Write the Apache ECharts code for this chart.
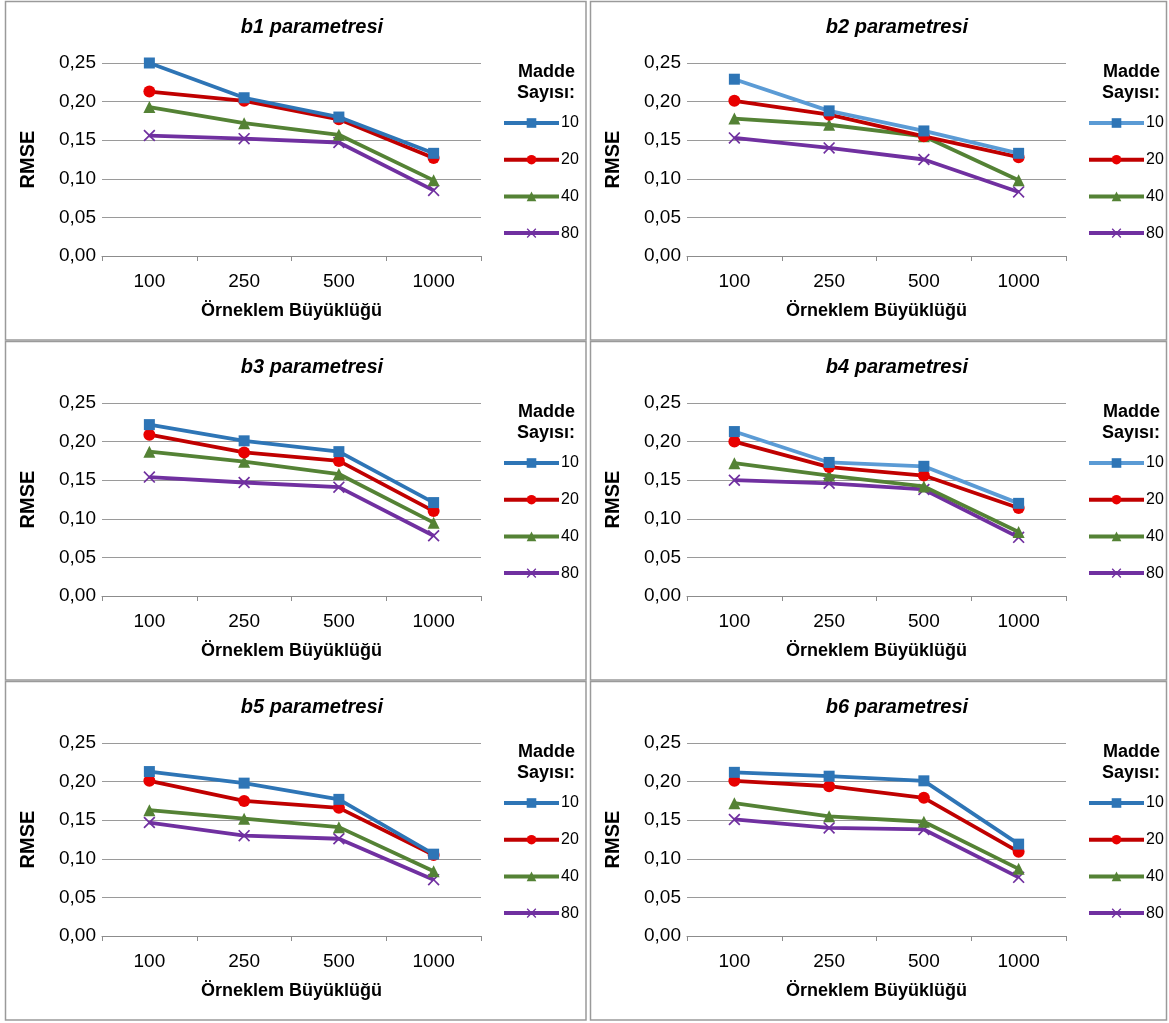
<!DOCTYPE html>
<html>
<head>
<meta charset="utf-8">
<script src="https://cdn.jsdelivr.net/npm/echarts@6/dist/echarts.min.js"></script>
<style>
html,body{margin:0;padding:0;background:#fff;}
#c{width:1169px;height:1023px;}
</style>
</head>
<body>
<div id="c"></div>
<script>
// ---- data ----
const categories = ['100', '250', '500', '1000'];
const seriesNames = ['10', '20', '40', '80'];
const panelTitles = ['b1 parametresi', 'b2 parametresi', 'b3 parametresi', 'b4 parametresi', 'b5 parametresi', 'b6 parametresi'];
const xAxisTitle = 'Örneklem Büyüklüğü';
const yAxisTitle = 'RMSE';
const legendTitle = ['Madde', 'Sayısı:'];
const yMin = 0, yMax = 0.25, yStep = 0.05;

const b1_10 = [0.250, 0.205, 0.180, 0.133];
const b1_20 = [0.213, 0.201, 0.177, 0.127];
const b1_40 = [0.193, 0.172, 0.157, 0.098];
const b1_80 = [0.156, 0.152, 0.147, 0.085];

const b2_10 = [0.229, 0.188, 0.162, 0.133];
const b2_20 = [0.201, 0.183, 0.155, 0.128];
const b2_40 = [0.178, 0.170, 0.155, 0.098];
const b2_80 = [0.153, 0.140, 0.125, 0.083];

const b3_10 = [0.222, 0.201, 0.187, 0.121];
const b3_20 = [0.209, 0.186, 0.175, 0.110];
const b3_40 = [0.187, 0.174, 0.158, 0.095];
const b3_80 = [0.154, 0.147, 0.141, 0.078];

const b4_10 = [0.213, 0.173, 0.168, 0.120];
const b4_20 = [0.200, 0.167, 0.156, 0.114];
const b4_40 = [0.172, 0.156, 0.142, 0.083];
const b4_80 = [0.150, 0.146, 0.138, 0.076];

const b5_10 = [0.213, 0.198, 0.177, 0.106];
const b5_20 = [0.201, 0.175, 0.166, 0.105];
const b5_40 = [0.163, 0.152, 0.141, 0.084];
const b5_80 = [0.147, 0.130, 0.126, 0.073];

const b6_10 = [0.212, 0.207, 0.201, 0.119];
const b6_20 = [0.201, 0.194, 0.179, 0.109];
const b6_40 = [0.172, 0.155, 0.148, 0.087];
const b6_80 = [0.151, 0.140, 0.138, 0.076];

const panelData = [
  [b1_10, b1_20, b1_40, b1_80],
  [b2_10, b2_20, b2_40, b2_80],
  [b3_10, b3_20, b3_40, b3_80],
  [b4_10, b4_20, b4_40, b4_80],
  [b5_10, b5_20, b5_40, b5_80],
  [b6_10, b6_20, b6_40, b6_80]
];

// ---- styles ----
const FONT = '"Liberation Sans", Arial, sans-serif';
const lightBluePanels = [1, 3];
const xSymbol = 'path://M0,1L1,0L5,4L9,0L10,1L6,5L10,9L9,10L5,6L1,10L0,9L4,5Z';
const seriesStyle = [
  { line: '#2E75B6', fill: '#2E75B6', symbol: 'rect', size: 11 },
  { line: '#C00000', fill: '#E80000', symbol: 'circle', size: 12 },
  { line: '#548235', fill: '#548235', symbol: 'triangle', size: 12 },
  { line: '#7030A0', fill: '#7030A0', symbol: xSymbol, size: 12 }
];

const chart = echarts.init(document.getElementById('c'), null, { renderer: 'canvas' });

const grids = [], xAxes = [], yAxes = [], series = [], legends = [], graphics = [];
const colOffset = 585, rowOffset = 340;

for (let p = 0; p < 6; p++) {
  const col = p % 2, row = Math.floor(p / 2);
  const ox = col * colOffset, oy = row * rowOffset;
  const gLeft = 102 + ox, gTop = 63 + oy, gW = 379, gH = 193;

  // panel border
  graphics.push({
    type: 'rect', silent: true, z: -1,
    shape: { x: col === 0 ? 5.5 : 590.5, y: 1.5 + oy, width: col === 0 ? 580.5 : 576, height: 338.5 },
    style: { fill: 'none', stroke: '#9a9a9a', lineWidth: 1.5 }
  });
  // title
  graphics.push({
    type: 'text', silent: true,
    style: { text: panelTitles[p], x: 312 + ox, y: 27 + oy, align: 'center', verticalAlign: 'middle',
      font: 'italic bold 20px ' + FONT, fill: '#000' }
  });
  // legend title
  graphics.push({
    type: 'text', silent: true,
    style: { text: legendTitle[0], x: 575 + ox, y: 72 + oy, align: 'right', verticalAlign: 'middle',
      font: 'bold 18px ' + FONT, fill: '#000' }
  });
  graphics.push({
    type: 'text', silent: true,
    style: { text: legendTitle[1], x: 575 + ox, y: 93 + oy, align: 'right', verticalAlign: 'middle',
      font: 'bold 18px ' + FONT, fill: '#000' }
  });

  grids.push({ left: gLeft, top: gTop, width: gW, height: gH, containLabel: false });

  xAxes.push({
    type: 'category', gridIndex: p, data: categories, boundaryGap: true,
    name: xAxisTitle, nameLocation: 'middle', nameGap: 46,
    nameTextStyle: { fontFamily: FONT, fontSize: 18, fontWeight: 'bold', color: '#000' },
    axisLine: { lineStyle: { color: '#8c8c8c', width: 1 } },
    axisTick: { show: true, length: 5, alignWithLabel: false, lineStyle: { color: '#8c8c8c' } },
    axisLabel: { fontFamily: FONT, fontSize: 19, color: '#000', margin: 16 },
    splitLine: { show: false }
  });

  yAxes.push({
    type: 'value', gridIndex: p, min: yMin, max: yMax, interval: yStep,
    name: yAxisTitle, nameLocation: 'middle', nameGap: 64, nameRotate: 90,
    nameTextStyle: { fontFamily: FONT, fontSize: 20, fontWeight: 'bold', color: '#000' },
    axisLine: { show: false }, axisTick: { show: false },
    axisLabel: { fontFamily: FONT, fontSize: 19, color: '#000', margin: 6,
      formatter: v => v.toFixed(2).replace('.', ',') },
    splitLine: { show: true, lineStyle: { color: '#9a9a9a', width: 1 } }
  });

  const names = [];
  for (let s = 0; s < 4; s++) {
    const st = seriesStyle[s];
    let lineColor = st.line;
    if (s === 0 && lightBluePanels.includes(p)) lineColor = '#5B9BD5';
    const nm = seriesNames[s] + '|' + p;
    names.push(nm);
    series.push({
      type: 'line', name: nm, xAxisIndex: p, yAxisIndex: p,
      data: panelData[p][s],
      symbol: st.symbol, symbolSize: st.size, showSymbol: true, clip: false,
      lineStyle: { color: lineColor, width: 3.8 },
      itemStyle: { color: st.fill, borderColor: st.fill, borderWidth: 0 },
      emphasis: { disabled: true },
      z: 10 - s
    });
  }

  legends.push({
    orient: 'vertical', left: 502 + ox, top: 115 + oy, padding: 0,
    itemWidth: 55, itemHeight: 12, itemGap: 20.7,
    data: names, selectedMode: false,
    formatter: n => n.split('|')[0],
    lineStyle: { width: 4 },
    textStyle: { fontFamily: FONT, fontSize: 16, color: '#000', lineHeight: 16, padding: [0, 0, 0, -3] }
  });
}

chart.setOption({
  backgroundColor: '#fff',
  animation: false,
  grid: grids,
  xAxis: xAxes,
  yAxis: yAxes,
  legend: legends,
  series: series,
  graphic: graphics
});
</script>
</body>
</html>
